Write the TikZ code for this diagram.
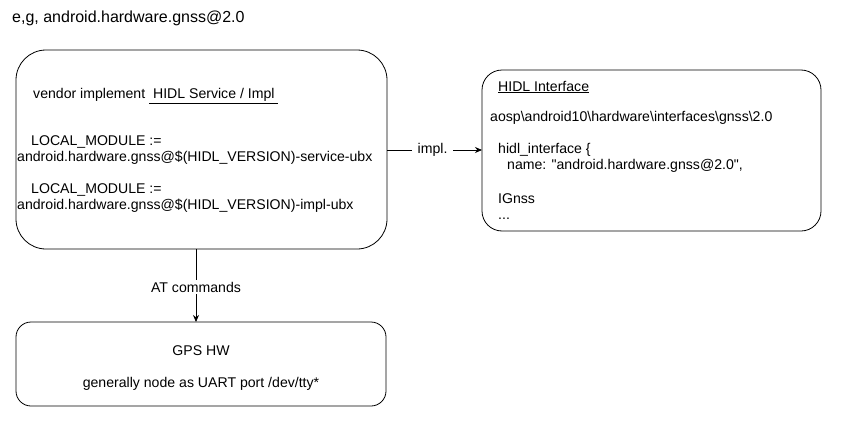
\documentclass[tikz,border=0pt]{standalone}
\usepackage{fontspec}
\setmainfont{Liberation Sans}
\usetikzlibrary{arrows.meta}
\begin{document}
\begin{tikzpicture}[x=1pt,y=-1pt,
  box/.style={draw=black,line width=0.8pt,fill=white},
  txt/.style={anchor=west,inner sep=0pt,font=\fontsize{14.1}{16}\selectfont},
  btxt/.style={anchor=base west,inner sep=0pt,font=\fontsize{14.1}{16}\selectfont},
  ctxt/.style={anchor=center,inner sep=0pt,font=\fontsize{14.1}{16}\selectfont},
  conn/.style={draw=black,line width=0.8pt},
  arr/.style={conn,-{Stealth[length=7pt,width=6pt]}},
  lbl/.style={fill=white,inner xsep=6pt,inner ysep=2pt,font=\fontsize{14.1}{16}\selectfont}]
\useasboundingbox (0,0) rectangle (843,447);
\node[anchor=west,inner sep=0pt,font=\fontsize{16}{18}\selectfont] (title) at (12,18) {e,g, android.hardware.gnss@2.0};
% box A
\draw[box,rounded corners=30pt] (16,50) rectangle (387,249);
\coordinate (Aright) at (387,150);
\coordinate (Abot) at (196,249);
\node[txt] (a1) at (33,96) {vendor implement \underline{\ HIDL Service / Impl\ }};
\node[txt] (a2) at (31,142) {LOCAL\_MODULE :=};
\node[txt] (a3) at (17,158) {android.hardware.gnss@\$(HIDL\_VERSION)-service-ubx};
\node[txt] (a4) at (31,190) {LOCAL\_MODULE :=};
\node[txt] (a5) at (17,206) {android.hardware.gnss@\$(HIDL\_VERSION)-impl-ubx};
% box B
\draw[box,rounded corners=20pt] (482,70) rectangle (821,231);
\coordinate (Bleft) at (482,150);
\node[txt] (b1) at (498,87) {\underline{HIDL Interface}};
\node[txt] (b2) at (490,118) {aosp\textbackslash android10\textbackslash hardware\textbackslash interfaces\textbackslash gnss\textbackslash 2.0};
\node[txt] (b3) at (498,150) {hidl\_interface \{};
\node[txt] (b4) at (507,166) {name: \textquotedbl android.hardware.gnss@2.0\textquotedbl ,};
\node[btxt] (b5) at (498,203.5) {IGnss};
\node[btxt] (b6) at (498,219) {...};
% box C
\draw[box,rounded corners=15pt] (16,322) rectangle (386,406);
\coordinate (Ctop) at (196,322);
\node[ctxt] (c1) at (201,351) {GPS HW};
\node[ctxt] (c2) at (201,384) {generally node as UART port /dev/tty*};
% connectors
\draw[arr] (Aright) -- node[lbl,pos=0.48] (l1) {impl.} (Bleft);
\draw[arr] (Abot) -- node[lbl,pos=0.52] (l2) {AT commands} (Ctop);
\end{tikzpicture}
\end{document}
